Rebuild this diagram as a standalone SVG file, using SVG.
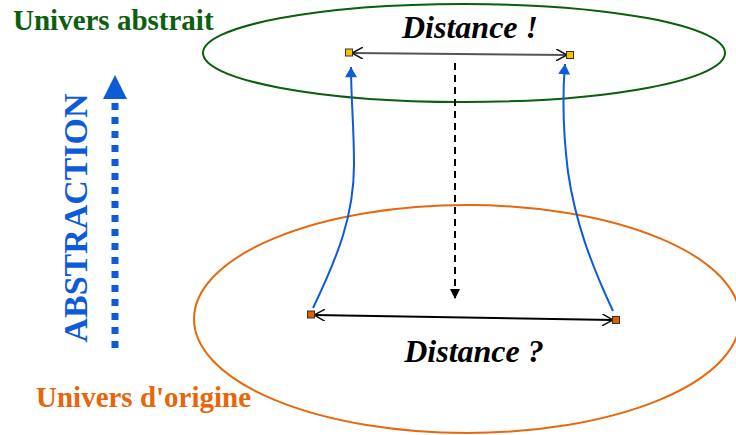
<svg xmlns="http://www.w3.org/2000/svg" width="736" height="435" viewBox="0 0 736 435">
<style>
.lbl{font-family:"Liberation Serif","Times New Roman",serif;font-weight:bold}
.dist{font-family:"Liberation Serif","Times New Roman",serif;font-weight:bold;font-style:italic;font-size:32px;fill:#000;text-anchor:middle}
.blue{fill:none;stroke:#0d5bd9;stroke-width:2}
.sq{stroke:#333;stroke-width:1}
</style>
<defs>
<marker id="open" viewBox="0 0 12 12" refX="11" refY="6" markerWidth="12" markerHeight="12" markerUnits="userSpaceOnUse" orient="auto-start-reverse">
<path d="M0,0 L11,6 L0,12" fill="none" stroke="#111" stroke-width="1.5"/>
</marker>
<marker id="blueHead" viewBox="0 0 12 14" refX="12" refY="7" markerWidth="14" markerHeight="12" markerUnits="userSpaceOnUse" orient="auto">
<path d="M0,0 L12,7 L0,14 Z" fill="#0d5bd9"/>
</marker>
<marker id="blackHead" viewBox="0 0 10 10" refX="10" refY="5" markerWidth="12" markerHeight="10" markerUnits="userSpaceOnUse" orient="auto">
<path d="M0,0 L10,5 L0,10 Z" fill="#000"/>
</marker>
</defs>
<g id="univers-abstrait">
<ellipse cx="464" cy="53" rx="261" ry="49" fill="none" stroke="#0b5e0b" stroke-width="2"/>
<text class="lbl" x="13" y="30" font-size="29" fill="#0b6010">Univers abstrait</text>
</g>
<g id="univers-origine">
<ellipse cx="467" cy="319" rx="273" ry="114" fill="none" stroke="#e8680e" stroke-width="2"/>
<text class="lbl" x="36" y="407" font-size="29" fill="#e8650a">Univers d'origine</text>
</g>
<g id="abstraction">
<text class="lbl" transform="translate(87,218) rotate(-90)" font-size="34" fill="#0d5bd9" text-anchor="middle" textLength="249" lengthAdjust="spacingAndGlyphs">ABSTRACTION</text>
<line x1="115" y1="348" x2="115" y2="99" stroke="#0d5bd9" stroke-width="7" stroke-dasharray="7 7"/>
<path d="M103,99 L115,75 L127,99 Z" fill="#0d5bd9"/>
</g>
<g id="distance-abstraite">
<text class="dist" x="470" y="38">Distance !</text>
</g>
<g id="distance-origine">
<text class="dist" x="474" y="362">Distance ?</text>
</g>
<g id="connectors">
<line x1="352" y1="53" x2="567" y2="55" stroke="#555" stroke-width="2" marker-start="url(#open)" marker-end="url(#open)"/>
<line x1="314" y1="315" x2="613" y2="320" stroke="#000" stroke-width="2" marker-start="url(#open)" marker-end="url(#open)"/>
<line x1="455" y1="63" x2="455" y2="299" stroke="#000" stroke-width="2" stroke-dasharray="7 5" marker-end="url(#blackHead)"/>
<path class="blue" d="M313,308 C338,256 354,215 354,165 C354,125 351,100 351,67" marker-end="url(#blueHead)"/>
<path class="blue" d="M613,311 C590,262 575,220 568,172 C563,132 562,100 565,64" marker-end="url(#blueHead)"/>
</g>
<g id="points">
<rect class="sq" x="345.5" y="49" width="7" height="7" fill="#f5c400"/>
<rect class="sq" x="566.5" y="51.5" width="7" height="7" fill="#f5c400"/>
<rect class="sq" x="307.5" y="311" width="7" height="7" fill="#e06000"/>
<rect class="sq" x="612.5" y="316.5" width="7" height="7" fill="#e06000"/>
</g>
</svg>
